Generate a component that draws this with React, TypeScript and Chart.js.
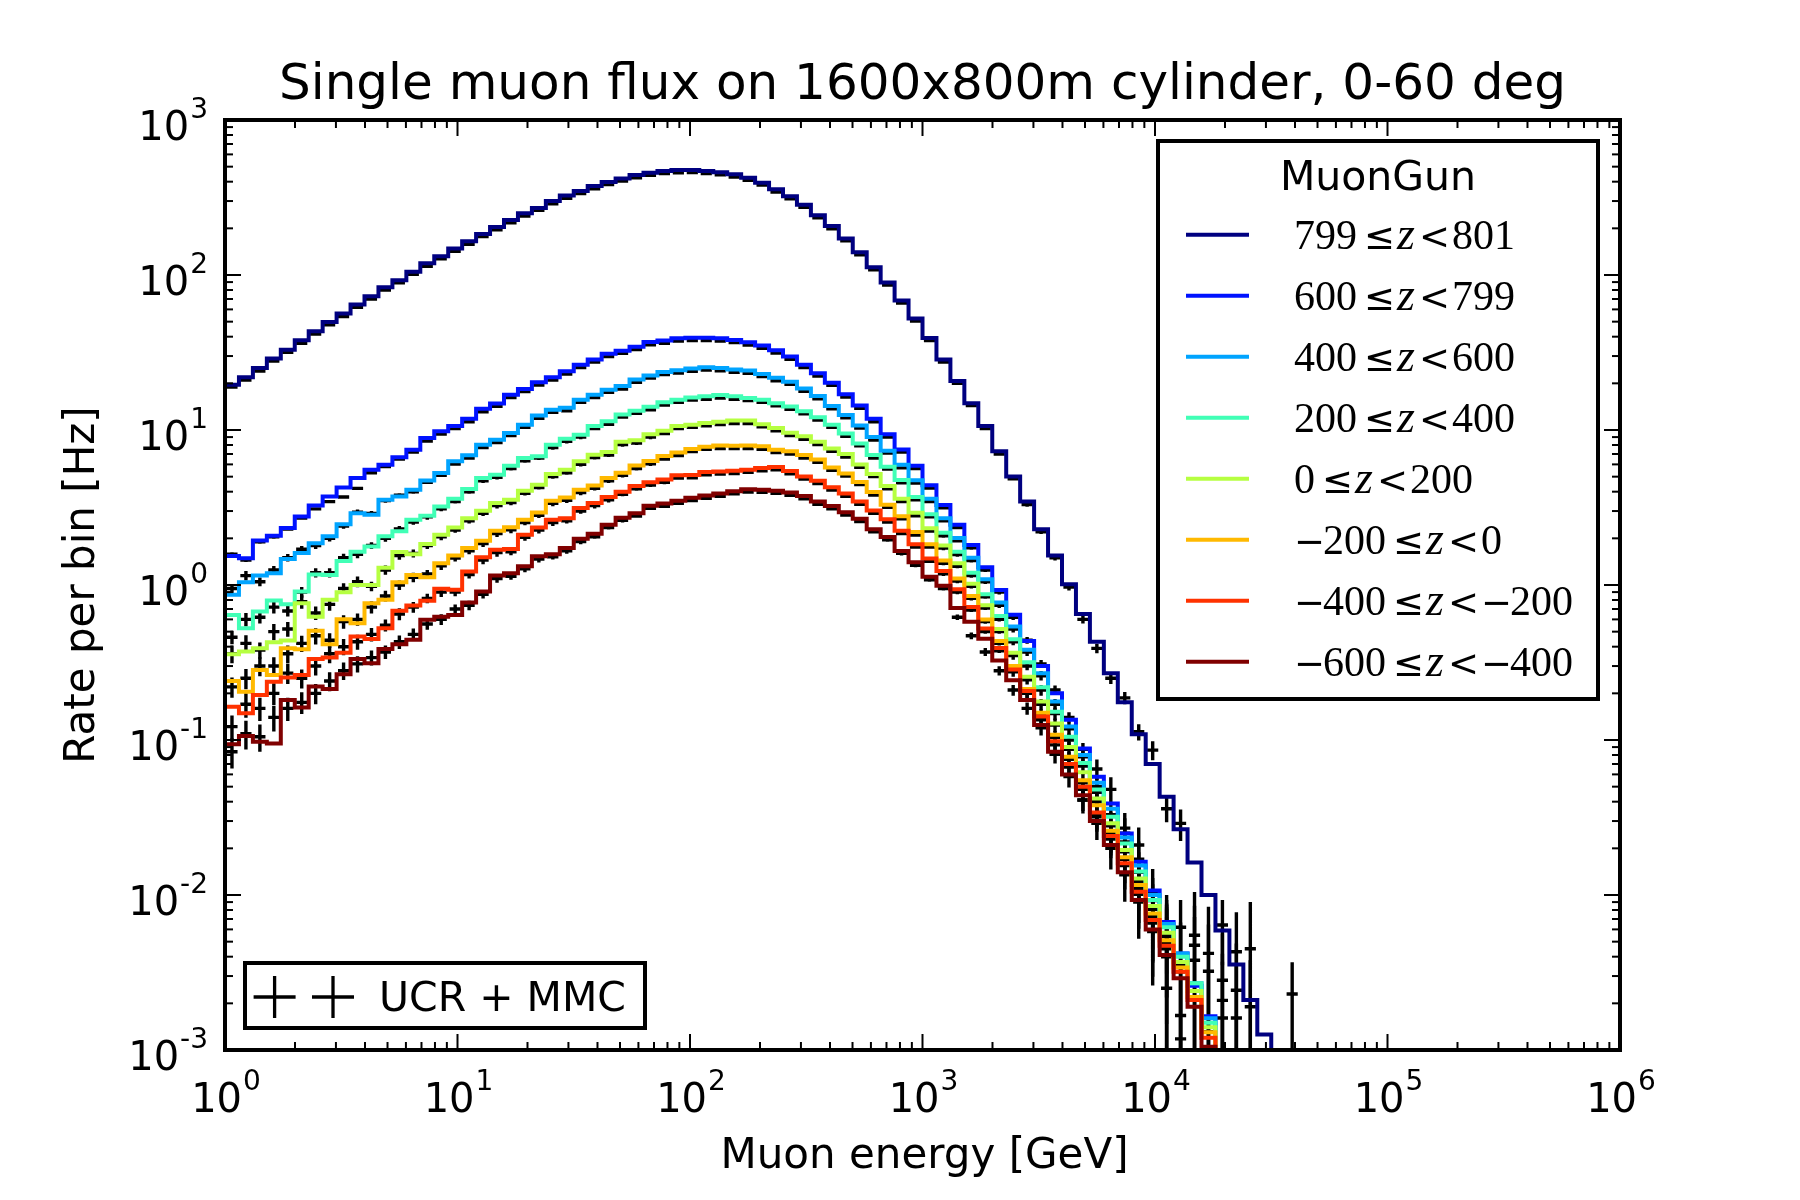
import React, { useEffect, useRef } from "react";
import { Chart, registerables } from "chart.js";

Chart.register(...registerables);

// ---------------- binning (log-spaced, 0.06 dex per bin) ----------------
const BIN_DEX = 0.06;
const binEdges: number[] = Array.from({ length: 101 }, (_, i) => Math.pow(10, i * BIN_DEX));

// ---------------- axis ticks ----------------
const xMajorExps = [0, 1, 2, 3, 4, 5, 6];
const yMajorExps = [-3, -2, -1, 0, 1, 2, 3];
const minorMultipliers = [2, 3, 4, 5, 6, 7, 8, 9];

// ---------------- text ----------------
const titleText = "Single muon flux on 1600x800m cylinder, 0-60 deg";
const xLabelText = "Muon energy [GeV]";
const yLabelText = "Rate per bin [Hz]";
const legendTitle = "MuonGun";
const dataLegendText = "UCR + MMC";
const zLow = ["799", "600", "400", "200", "0", "\u2212200", "\u2212400", "\u2212600"];
const zHigh = ["801", "799", "600", "400", "200", "0", "\u2212200", "\u2212400"];
const seriesColors = ["#000080", "#0012ff", "#00a4ff", "#41ffb6", "#b6ff41", "#ffb900", "#ff3200", "#800000"];

// ---------------- MuonGun histograms (rate per bin, Hz) ----------------
const histZ799 = [19.6, 21.9, 25.1, 28.9, 33.0, 37.9, 43.4, 49.8, 56.4, 64.5,
  73.0, 83.4, 92.6, 105, 119, 132, 148, 165, 184, 204,
  226, 250, 271, 300, 326, 348, 375, 398, 420, 441,
  457, 469, 475, 475, 469, 461, 446, 424, 394, 357,
  322, 284, 243, 207, 172, 140, 112, 89.3, 68.5, 52.5,
  39.2, 28.5, 20.7, 14.9, 10.6, 7.28, 5.02, 3.46, 2.29, 1.55,
  1.01, 0.65, 0.43, 0.27, 0.175, 0.109, 0.070, 0.043, 0.0266, 0.0162,
  0.0100, 0.0059, 0.00356, 0.0021, 0.00126];
const histZ600 = [1.54, 1.49, 1.94, 2.08, 2.33, 2.77, 3.26, 3.73, 4.26, 4.90,
  5.54, 5.97, 6.66, 7.46, 8.87, 9.80, 10.6, 11.8, 13.7, 14.8,
  16.9, 18.4, 20.3, 21.9, 23.9, 26.4, 28.5, 31.0, 32.5, 34.4,
  37.0, 37.8, 39.1, 39.3, 39.3, 39.1, 38.1, 36.8, 35.1, 32.7,
  29.8, 26.4, 23.2, 20.2, 17.0, 14.4, 11.8, 9.4, 7.48, 5.89,
  4.40, 3.28, 2.45, 1.81, 1.30, 0.93, 0.643, 0.436, 0.30, 0.20,
  0.135, 0.088, 0.058, 0.039, 0.0249, 0.0164, 0.0107, 0.0067, 0.0042, 0.0026, 0.00165];
const histZ400 = [0.865, 1.04, 1.15, 1.19, 1.47, 1.61, 1.86, 2.06, 2.47, 2.90,
  2.84, 3.55, 3.73, 4.12, 4.73, 5.28, 6.28, 6.86, 8.04, 8.66,
  9.57, 10.8, 12.4, 13.5, 13.9, 15.7, 16.9, 18.2, 19.2, 21.2,
  22.5, 23.7, 24.3, 24.9, 25.4, 25.1, 24.6, 24.2, 23.0, 21.7,
  20.5, 18.5, 16.6, 14.3, 12.5, 10.7, 9.0, 7.36, 5.96, 4.74,
  3.6, 2.7, 2.01, 1.5, 1.09, 0.77, 0.54, 0.382, 0.270, 0.177,
  0.122, 0.080, 0.053, 0.036, 0.0235, 0.0155, 0.0100, 0.0065, 0.0042, 0.0027, 0.0016];
const histZ200 = [0.641, 0.526, 0.674, 0.794, 0.752, 0.908, 1.17, 1.16, 1.43, 1.64,
  1.77, 2.06, 2.22, 2.64, 2.80, 3.21, 3.60, 4.16, 4.90, 5.15,
  5.89, 6.59, 6.76, 8.04, 8.79, 9.33, 10.6, 11.4, 12.6, 13.3,
  14.1, 15.1, 15.7, 16.2, 16.5, 16.8, 16.5, 16.1, 15.7, 14.9,
  14.2, 13.2, 12.1, 10.8, 9.5, 8.19, 6.9, 5.8, 4.76, 3.7,
  2.86, 2.17, 1.64, 1.2, 0.87, 0.63, 0.446, 0.317, 0.219, 0.152,
  0.105, 0.071, 0.048, 0.032, 0.0215, 0.0142, 0.0093, 0.0062, 0.0040, 0.0027, 0.0015];
const histZ0 = [0.357, 0.372, 0.391, 0.427, 0.438, 0.763, 0.625, 0.802, 0.899, 1.00,
  1.00, 1.29, 1.63, 1.58, 1.84, 2.11, 2.35, 2.70, 3.01, 3.38,
  3.55, 4.06, 4.44, 5.20, 5.55, 6.28, 6.93, 7.2, 8.4, 8.6,
  9.4, 9.9, 10.6, 10.8, 11.1, 11.3, 11.5, 11.5, 10.9, 10.3,
  9.6, 9.1, 8.4, 7.6, 7.0, 6.0, 5.2, 4.35, 3.6, 2.93,
  2.32, 1.8, 1.38, 1.02, 0.74, 0.52, 0.365, 0.256, 0.177, 0.128,
  0.090, 0.062, 0.042, 0.029, 0.0195, 0.0128, 0.0085, 0.0057, 0.0037, 0.0024, 0.0014];
const histZm200 = [0.240, 0.205, 0.283, 0.263, 0.391, 0.385, 0.506, 0.415, 0.601, 0.566,
  0.763, 0.802, 1.04, 1.16, 1.12, 1.38, 1.55, 1.73, 1.93, 2.24,
  2.36, 2.64, 2.94, 3.50, 3.67, 4.12, 4.39, 4.9, 5.3, 5.9,
  6.3, 6.8, 7.15, 7.55, 7.8, 7.95, 7.9, 7.93, 7.85, 7.46,
  7.3, 6.9, 6.45, 5.73, 5.25, 4.62, 3.98, 3.3, 2.78, 2.2,
  1.83, 1.44, 1.10, 0.85, 0.60, 0.436, 0.30, 0.213, 0.150, 0.108,
  0.078, 0.055, 0.038, 0.026, 0.0175, 0.0116, 0.0076, 0.0051, 0.0034, 0.0022, 0.0013];
const histZm400 = [0.164, 0.149, 0.195, 0.238, 0.253, 0.263, 0.333, 0.340, 0.366, 0.465,
  0.449, 0.526, 0.681, 0.737, 0.791, 0.945, 0.931, 1.22, 1.51, 1.69,
  1.71, 2.11, 2.35, 2.64, 2.70, 3.14, 3.38, 3.7, 4.0, 4.35,
  4.6, 4.8, 5.1, 5.12, 5.35, 5.4, 5.45, 5.55, 5.69, 5.77,
  5.44, 5.02, 4.71, 4.28, 3.89, 3.46, 3.03, 2.66, 2.24, 1.83,
  1.48, 1.23, 0.94, 0.72, 0.525, 0.392, 0.285, 0.207, 0.142, 0.098,
  0.070, 0.050, 0.034, 0.024, 0.0160, 0.0105, 0.0069, 0.0047, 0.0032, 0.0021, 0.0012];
const histZm600 = [0.094, 0.106, 0.0975, 0.095, 0.181, 0.162, 0.221, 0.213, 0.266, 0.333,
  0.313, 0.387, 0.415, 0.443, 0.596, 0.625, 0.641, 0.771, 0.908, 1.15,
  1.19, 1.32, 1.53, 1.58, 1.73, 1.99, 2.14, 2.45, 2.72, 2.9,
  3.25, 3.35, 3.5, 3.65, 3.78, 3.9, 4.03, 4.15, 4.12, 4.06,
  3.95, 3.75, 3.46, 3.23, 2.95, 2.68, 2.29, 2.04, 1.66, 1.40,
  1.13, 0.99, 0.71, 0.58, 0.45, 0.326, 0.243, 0.181, 0.125, 0.084,
  0.060, 0.044, 0.030, 0.021, 0.014, 0.0093, 0.0060, 0.0041, 0.0029, 0.0019, 0.00105];

// ---------------- UCR + MMC points (value, relative error) ----------------
const ucrZ799 = [18.9, 21.0, 24.0, 27.8, 31.7, 36.3, 41.6, 47.8, 54.0, 61.9,
  70.0, 80.0, 89.0, 101, 114, 127, 142, 158, 177, 196,
  217, 240, 261, 288, 313, 335, 360, 383, 404, 424,
  440, 452, 457, 458, 452, 443, 429, 408, 380, 343,
  310, 273, 234, 199, 166, 135, 108, 86.0, 66.0, 50.5,
  37.8, 27.4, 20.0, 14.4, 10.2, 7.0, 4.85, 3.3, 2.2, 1.5,
  0.97, 0.60, 0.39, 0.25, 0.187, 0.113, 0.086, 0.036, 0.029, 0.0055,
  0.0042, 0.0064, 0.0043, 0.0045, null, null, 0.0023];
const ucrErrZ799 = [0.01, 0.01, 0.01, 0.01, 0.01, 0.01, 0.01, 0.01, 0.01, 0.01,
  0.01, 0.01, 0.01, 0.01, 0.01, 0.01, 0.01, 0.01, 0.01, 0.01,
  0.01, 0.01, 0.01, 0.01, 0.01, 0.01, 0.01, 0.01, 0.01, 0.01,
  0.01, 0.01, 0.01, 0.01, 0.01, 0.01, 0.01, 0.01, 0.01, 0.01,
  0.01, 0.01, 0.01, 0.01, 0.01, 0.01, 0.01, 0.01, 0.01, 0.01,
  0.01, 0.01, 0.01, 0.01, 0.01, 0.02, 0.02, 0.03, 0.03, 0.04,
  0.05, 0.06, 0.07, 0.08, 0.09, 0.12, 0.14, 0.18, 0.23, 0.9,
  1.0, 0.45, 0.8, 1.0, null, null, 0.6];
const ucrZ600 = [1.58, 1.45, 1.9, 2.05, 2.3, 2.7, 3.1, 3.45, 3.7, 4.2,
  5.3, 5.8, 6.5, 7.2, 8.5, 9.4, 10.2, 11.3, 13.1, 14.2,
  16.2, 17.7, 19.5, 21.0, 23.0, 25.3, 27.4, 29.8, 31.2, 33.0,
  35.5, 36.3, 37.5, 37.7, 37.7, 37.5, 36.6, 35.3, 33.7, 31.4,
  28.6, 25.3, 22.3, 19.4, 16.3, 13.8, 11.3, 9.0, 7.2, 5.65,
  4.22, 3.15, 2.35, 1.74, 1.25, 0.9, 0.62, 0.44, 0.31, 0.21,
  0.14, 0.087, 0.065, 0.048, 0.027, 0.021, 0.0105, 0.0025, 0.0062, 0.00474,
  0.00322, 0.00282, 0.00243, 0.0019];
const ucrErrZ600 = [0.03, 0.03, 0.03, 0.03, 0.025, 0.025, 0.025, 0.02, 0.02, 0.02,
  0.015, 0.015, 0.015, 0.015, 0.015, 0.015, 0.015, 0.015, 0.015, 0.015,
  0.015, 0.015, 0.015, 0.015, 0.015, 0.015, 0.015, 0.015, 0.015, 0.015,
  0.015, 0.015, 0.015, 0.015, 0.015, 0.015, 0.015, 0.015, 0.015, 0.015,
  0.015, 0.015, 0.015, 0.015, 0.015, 0.015, 0.015, 0.015, 0.015, 0.015,
  0.02, 0.02, 0.025, 0.03, 0.03, 0.035, 0.04, 0.05, 0.06, 0.07,
  0.08, 0.1, 0.15, 0.2, 0.25, 0.3, 0.4, 3.0, 0.5, 0.8,
  1.0, 1.0, 1.0, 1.0];
const ucrZ400 = [0.95, 1.15, 1.05, 1.25, 1.5, 1.7, 1.8, 2.0, 2.4, 2.95,
  2.9, 3.5, 3.8, 4.0, 4.6, 5.1, 6.03, 6.6, 7.7, 8.3,
  9.2, 10.4, 11.9, 13.0, 13.3, 15.1, 16.2, 17.5, 18.4, 20.3,
  21.6, 22.8, 23.3, 23.9, 24.4, 24.1, 23.6, 23.2, 22.1, 20.8,
  19.7, 17.8, 15.9, 13.7, 12.0, 10.3, 8.6, 7.1, 5.7, 4.55,
  3.45, 2.6, 1.93, 1.44, 1.05, 0.74, 0.52, 0.37, 0.26, 0.17,
  0.118, 0.078, 0.05, 0.033, 0.022, 0.017, 0.0068, 0.0055, 0.00167, 0.00379,
  0.00131, 0.00209, 0.00161];
const ucrErrZ400 = [0.07, 0.07, 0.065, 0.06, 0.055, 0.05, 0.05, 0.045, 0.04, 0.04,
  0.035, 0.03, 0.03, 0.03, 0.025, 0.025, 0.02, 0.02, 0.02, 0.02,
  0.02, 0.02, 0.02, 0.02, 0.02, 0.02, 0.02, 0.02, 0.02, 0.02,
  0.015, 0.015, 0.015, 0.015, 0.015, 0.015, 0.015, 0.015, 0.015, 0.015,
  0.015, 0.015, 0.015, 0.015, 0.015, 0.015, 0.015, 0.015, 0.015, 0.015,
  0.02, 0.02, 0.025, 0.03, 0.035, 0.04, 0.05, 0.06, 0.07, 0.08,
  0.1, 0.12, 0.15, 0.2, 0.25, 0.3, 0.45, 0.6, 1.2, 0.9,
  1.5, 1.0, 1.2];
const ucrZ200 = [0.46, 0.6, 0.62, 0.72, 0.68, 0.9, 1.2, 1.2, 1.5, 1.58,
  1.8, 2.0, 2.3, 2.55, 2.75, 3.1, 3.46, 4.0, 4.7, 4.95,
  5.65, 6.33, 6.6, 7.7, 8.45, 9.0, 10.2, 10.9, 12.1, 12.8,
  13.5, 14.5, 15.1, 15.6, 15.8, 16.1, 15.8, 15.5, 15.1, 14.3,
  13.6, 12.7, 11.6, 10.4, 9.1, 7.9, 6.6, 5.6, 4.57, 3.55,
  2.75, 2.08, 1.57, 1.15, 0.84, 0.6, 0.43, 0.3, 0.21, 0.148,
  0.1, 0.068, 0.046, 0.024, 0.025, 0.014, 0.0092, 0.0062, 0.00118, null,
  null, 0.00161];
const ucrErrZ200 = [0.1, 0.1, 0.09, 0.09, 0.08, 0.08, 0.07, 0.07, 0.06, 0.06,
  0.05, 0.05, 0.045, 0.04, 0.04, 0.035, 0.03, 0.03, 0.03, 0.03,
  0.03, 0.03, 0.03, 0.03, 0.03, 0.03, 0.02, 0.02, 0.02, 0.02,
  0.02, 0.02, 0.02, 0.02, 0.02, 0.02, 0.02, 0.02, 0.02, 0.02,
  0.02, 0.02, 0.02, 0.02, 0.02, 0.02, 0.02, 0.02, 0.02, 0.02,
  0.02, 0.03, 0.03, 0.03, 0.03, 0.03, 0.05, 0.06, 0.08, 0.09,
  0.1, 0.12, 0.15, 0.25, 0.25, 0.35, 0.4, 0.5, 1.5, null,
  null, 1.3];
const ucrZ0 = [0.36, 0.42, 0.38, 0.5, 0.52, 0.78, 0.66, 0.75, 0.95, 1.05,
  0.98, 1.25, 1.55, 1.6, 1.8, 2.05, 2.26, 2.6, 2.9, 3.25,
  3.4, 3.9, 4.26, 5.0, 5.3, 6.0, 6.65, 6.9, 8.05, 8.25,
  9.0, 9.5, 10.2, 10.4, 10.65, 10.85, 11.0, 11.0, 10.5, 9.9,
  9.2, 8.7, 8.05, 7.3, 6.7, 5.75, 5.0, 4.18, 3.45, 2.8,
  2.23, 1.73, 1.32, 0.98, 0.71, 0.5, 0.35, 0.245, 0.17, 0.125,
  0.087, 0.041, 0.040, 0.028, 0.019, 0.0122, 0.0081, 0.0054, 0.0035];
const ucrErrZ0 = [0.13, 0.13, 0.12, 0.12, 0.11, 0.1, 0.1, 0.09, 0.08, 0.08,
  0.07, 0.07, 0.06, 0.06, 0.05, 0.05, 0.04, 0.04, 0.04, 0.04,
  0.04, 0.03, 0.03, 0.03, 0.03, 0.03, 0.03, 0.03, 0.03, 0.03,
  0.03, 0.02, 0.02, 0.02, 0.02, 0.02, 0.02, 0.02, 0.02, 0.02,
  0.02, 0.02, 0.02, 0.02, 0.02, 0.02, 0.02, 0.02, 0.02, 0.02,
  0.02, 0.03, 0.03, 0.03, 0.03, 0.03, 0.06, 0.07, 0.08, 0.1,
  0.12, 0.15, 0.18, 0.22, 0.28, 0.35, 0.45, 0.6, 0.9];
const ucrZm200 = [0.22, 0.25, 0.3, 0.3, 0.36, 0.42, 0.47, 0.44, 0.58, 0.6,
  0.72, 0.85, 1.0, 1.12, 1.18, 1.33, 1.49, 1.66, 1.85, 2.15,
  2.27, 2.53, 2.82, 3.36, 3.52, 3.95, 4.2, 4.7, 5.1, 5.65,
  6.05, 6.5, 6.85, 7.25, 7.5, 7.6, 7.6, 7.6, 7.5, 7.15,
  7.0, 6.6, 6.2, 5.5, 5.05, 4.45, 3.8, 3.17, 2.67, 2.1,
  1.76, 1.38, 1.06, 0.82, 0.58, 0.42, 0.29, 0.2, 0.145, 0.104,
  0.075, 0.053, 0.032, 0.025, 0.017, 0.011, 0.0073, 0.0049, 0.0032];
const ucrErrZm200 = [0.15, 0.15, 0.14, 0.14, 0.13, 0.12, 0.12, 0.11, 0.1, 0.09,
  0.09, 0.08, 0.07, 0.07, 0.06, 0.06, 0.05, 0.05, 0.05, 0.05,
  0.05, 0.04, 0.04, 0.04, 0.04, 0.04, 0.03, 0.03, 0.03, 0.03,
  0.03, 0.02, 0.02, 0.02, 0.02, 0.02, 0.02, 0.02, 0.02, 0.02,
  0.02, 0.02, 0.02, 0.02, 0.02, 0.02, 0.02, 0.02, 0.02, 0.02,
  0.02, 0.03, 0.03, 0.03, 0.03, 0.03, 0.06, 0.08, 0.09, 0.1,
  0.12, 0.15, 0.2, 0.25, 0.3, 0.4, 0.5, 0.7, 1.0];
const ucrZm400 = [0.122, 0.17, 0.16, 0.2, 0.27, 0.25, 0.3, 0.36, 0.4, 0.43,
  0.48, 0.55, 0.65, 0.72, 0.82, 0.9, 0.9, 1.17, 1.45, 1.62,
  1.64, 2.03, 2.26, 2.53, 2.6, 3.0, 3.25, 3.55, 3.85, 4.18,
  4.42, 4.6, 4.9, 4.92, 5.14, 5.2, 5.23, 5.33, 5.46, 5.54,
  5.22, 4.82, 4.52, 4.1, 3.73, 3.32, 2.9, 2.55, 2.15, 1.76,
  1.42, 1.18, 0.9, 0.69, 0.5, 0.376, 0.275, 0.2, 0.135, 0.093,
  0.067, 0.048, 0.033, 0.023, 0.0155, 0.0101, 0.0066, 0.0045];
const ucrErrZm400 = [0.18, 0.18, 0.17, 0.16, 0.15, 0.14, 0.13, 0.13, 0.12, 0.11,
  0.1, 0.09, 0.09, 0.08, 0.07, 0.07, 0.06, 0.06, 0.06, 0.06,
  0.05, 0.05, 0.05, 0.05, 0.04, 0.04, 0.04, 0.04, 0.03, 0.03,
  0.03, 0.03, 0.02, 0.02, 0.02, 0.02, 0.02, 0.02, 0.02, 0.02,
  0.02, 0.02, 0.02, 0.02, 0.02, 0.02, 0.02, 0.02, 0.02, 0.02,
  0.02, 0.03, 0.03, 0.03, 0.03, 0.03, 0.07, 0.08, 0.1, 0.12,
  0.14, 0.17, 0.2, 0.25, 0.3, 0.4, 0.55, 0.8];
const ucrZm600 = [0.084, 0.11, 0.105, 0.14, 0.16, 0.175, 0.2, 0.24, 0.28, 0.31,
  0.34, 0.37, 0.43, 0.48, 0.56, 0.6, 0.7, 0.74, 0.87, 1.1,
  1.14, 1.27, 1.47, 1.52, 1.66, 1.91, 2.05, 2.35, 2.61, 2.78,
  3.12, 3.22, 3.36, 3.5, 3.63, 3.74, 3.87, 3.98, 3.96, 3.9,
  3.79, 3.6, 3.32, 3.1, 2.83, 2.57, 2.2, 1.96, 1.6, 1.34,
  1.08, 0.95, 0.62, 0.47, 0.37, 0.28, 0.21, 0.16, 0.12, 0.081,
  0.058, 0.041, 0.029, 0.02, 0.0135, 0.009, 0.0058, 0.004];
const ucrErrZm600 = [0.22, 0.21, 0.2, 0.19, 0.17, 0.16, 0.15, 0.14, 0.13, 0.12,
  0.11, 0.1, 0.1, 0.09, 0.08, 0.08, 0.07, 0.07, 0.06, 0.06,
  0.05, 0.05, 0.05, 0.04, 0.04, 0.04, 0.03, 0.03, 0.03, 0.02,
  0.02, 0.02, 0.02, 0.02, 0.02, 0.02, 0.02, 0.02, 0.02, 0.02,
  0.02, 0.02, 0.02, 0.02, 0.02, 0.02, 0.02, 0.03, 0.03, 0.03,
  0.03, 0.03, 0.04, 0.05, 0.06, 0.07, 0.08, 0.09, 0.11, 0.13,
  0.15, 0.18, 0.22, 0.27, 0.33, 0.42, 0.55, 0.8];

const histSeries = [histZ799, histZ600, histZ400, histZ200, histZ0, histZm200, histZm400, histZm600];
const ucrSeries = [ucrZ799, ucrZ600, ucrZ400, ucrZ200, ucrZ0, ucrZm200, ucrZm400, ucrZm600];
const ucrErrSeries = [ucrErrZ799, ucrErrZ600, ucrErrZ400, ucrErrZ200, ucrErrZ0, ucrErrZm200, ucrErrZm400, ucrErrZm600];

const FLOOR = 1e-6;
const SANS = '"DejaVu Sans", "Bitstream Vera Sans", sans-serif';
const SERIF = '"Liberation Serif", "DejaVu Serif", serif';

function histPoints(vals: number[]) {
  const pts: any[] = vals.map((v, i) => ({ x: binEdges[i], y: v }));
  pts.push({ x: binEdges[vals.length], y: FLOOR });
  return pts;
}

function crossPoints(vals: (number | null)[], errs: (number | null)[]) {
  const pts: any[] = [];
  vals.forEach((v, i) => {
    if (v === null || v === undefined) return;
    const e = errs[i] ?? 0;
    const xc = Math.pow(10, (i + 0.5) * BIN_DEX);
    const xl = Math.pow(10, (i + 0.1) * BIN_DEX);
    const xh = Math.pow(10, (i + 0.9) * BIN_DEX);
    const hi = v * (1 + e);
    const loRaw = v * (1 - e);
    const lo = loRaw > 0 ? loRaw : FLOOR;
    pts.push({ x: xl, y: v }, { x: xh, y: v }, { x: xh, y: null });
    pts.push({ x: xc, y: hi }, { x: xc, y: lo }, { x: xc, y: null });
  });
  return pts;
}

function drawPow(ctx: CanvasRenderingContext2D, exp: number, x: number, baseY: number, align: "center" | "right") {
  const mainFont = `40px ${SANS}`;
  const supFont = `28px ${SANS}`;
  ctx.font = mainFont;
  const wMain = ctx.measureText("10").width;
  ctx.font = supFont;
  const expStr = exp < 0 ? "-" + Math.abs(exp) : String(exp);
  const wSup = ctx.measureText(expStr).width;
  const total = wMain + 1 + wSup;
  const left = align === "center" ? x - total / 2 : x - total;
  ctx.textAlign = "left";
  ctx.textBaseline = "alphabetic";
  ctx.font = mainFont;
  ctx.fillText("10", left, baseY);
  ctx.font = supFont;
  ctx.fillText(expStr, left + wMain + 1, baseY - 22);
}

const NUM_FONT = `42px ${SERIF}`;
const REL_FONT = `37px ${SANS}`;
const Z_FONT = `italic 46px ${SERIF}`;

// draws a (possibly negative) number in math style, returns advanced x
function drawMathNumber(ctx: CanvasRenderingContext2D, s: string, x: number, yb: number) {
  let cx = x;
  let digits = s;
  if (s.startsWith("\u2212")) {
    ctx.font = REL_FONT;
    ctx.fillText("\u2212", cx, yb);
    cx += ctx.measureText("\u2212").width - 2;
    digits = s.slice(1);
  }
  ctx.font = NUM_FONT;
  ctx.fillText(digits, cx, yb);
  cx += ctx.measureText(digits).width;
  return cx;
}

const decorPlugin = {
  id: "decor",
  afterDatasetsDraw(chart: any) {
    const { ctx, chartArea: a, scales } = chart;
    const xs = scales.x;
    const ys = scales.y;
    ctx.save();
    ctx.strokeStyle = "#000";
    ctx.fillStyle = "#000";
    ctx.lineCap = "butt";

    const seg = (x1: number, y1: number, x2: number, y2: number) => {
      ctx.beginPath();
      ctx.moveTo(x1, y1);
      ctx.lineTo(x2, y2);
      ctx.stroke();
    };

    // ticks (inward, all four sides)
    ctx.lineWidth = 2;
    xMajorExps.forEach((k) => {
      const px = xs.getPixelForValue(Math.pow(10, k));
      seg(px, a.bottom, px, a.bottom - 16);
      seg(px, a.top, px, a.top + 16);
      if (k < xMajorExps[xMajorExps.length - 1]) {
        minorMultipliers.forEach((m) => {
          const p = xs.getPixelForValue(m * Math.pow(10, k));
          seg(p, a.bottom, p, a.bottom - 8);
          seg(p, a.top, p, a.top + 8);
        });
      }
    });
    yMajorExps.forEach((k) => {
      const py = ys.getPixelForValue(Math.pow(10, k));
      seg(a.left, py, a.left + 16, py);
      seg(a.right, py, a.right - 16, py);
      if (k < yMajorExps[yMajorExps.length - 1]) {
        minorMultipliers.forEach((m) => {
          const p = ys.getPixelForValue(m * Math.pow(10, k));
          seg(a.left, p, a.left + 8, p);
          seg(a.right, p, a.right - 8, p);
        });
      }
    });

    // spines
    ctx.lineWidth = 4;
    ctx.strokeRect(a.left, a.top, a.right - a.left, a.bottom - a.top);

    // tick labels
    xMajorExps.forEach((k) => {
      const px = xs.getPixelForValue(Math.pow(10, k));
      drawPow(ctx, k, px + 1, a.bottom + 62, "center");
    });
    yMajorExps.forEach((k) => {
      const py = ys.getPixelForValue(Math.pow(10, k));
      drawPow(ctx, k, a.left - 17, py + 20, "right");
    });

    // title and axis labels
    const cx = (a.left + a.right) / 2;
    ctx.textAlign = "center";
    ctx.textBaseline = "alphabetic";
    ctx.font = `50px ${SANS}`;
    ctx.fillText(titleText, cx, 99);
    ctx.font = `42px ${SANS}`;
    ctx.fillText(xLabelText, cx + 2, 1168);
    ctx.save();
    ctx.translate(94, (a.top + a.bottom) / 2);
    ctx.rotate(-Math.PI / 2);
    ctx.fillText(yLabelText, 0, 0);
    ctx.restore();

    // MuonGun legend
    const lx = 1158, ly = 141, lw = 440, lh = 558;
    ctx.fillStyle = "#fff";
    ctx.fillRect(lx, ly, lw, lh);
    ctx.lineWidth = 4;
    ctx.strokeStyle = "#000";
    ctx.strokeRect(lx, ly, lw, lh);
    ctx.fillStyle = "#000";
    ctx.font = `41px ${SANS}`;
    ctx.textAlign = "center";
    ctx.fillText(legendTitle, 1378, 189.5);
    ctx.textAlign = "left";
    seriesColors.forEach((c, k) => {
      const yc = 234.7 + 61 * k;
      ctx.strokeStyle = c;
      ctx.lineWidth = 4;
      seg(1186, yc, 1249, yc);
      const yb = yc + 14;
      ctx.fillStyle = "#000";
      let x = drawMathNumber(ctx, zLow[k], 1294, yb) + 7;
      ctx.font = REL_FONT;
      ctx.fillText("\u2264", x, yb);
      x += ctx.measureText("\u2264").width + 2;
      ctx.font = Z_FONT;
      ctx.fillText("z", x, yb);
      x += ctx.measureText("z").width + 4;
      ctx.font = REL_FONT;
      ctx.fillText("<", x, yb);
      x += ctx.measureText("<").width + 2;
      drawMathNumber(ctx, zHigh[k], x, yb);
    });

    // UCR + MMC legend
    const bx = 245, by = 963, bw = 400, bh = 65;
    ctx.fillStyle = "#fff";
    ctx.fillRect(bx, by, bw, bh);
    ctx.strokeStyle = "#000";
    ctx.lineWidth = 4;
    ctx.strokeRect(bx, by, bw, bh);
    ctx.lineWidth = 3.3;
    [274.6, 333].forEach((mx) => {
      seg(mx - 21, 997, mx + 21, 997);
      seg(mx, 976, mx, 1018);
    });
    ctx.fillStyle = "#000";
    ctx.font = `41px ${SANS}`;
    ctx.textAlign = "left";
    ctx.fillText(dataLegendText, 379, 1011);

    ctx.restore();
  },
};

export default function App() {
  const ref = useRef<HTMLCanvasElement | null>(null);
  useEffect(() => {
    document.body.style.margin = "0";
    const canvas = ref.current;
    if (!canvas) return;

    const histDatasets = histSeries.map((vals, k) => ({
      label: `${zLow[k]} <= z < ${zHigh[k]}`,
      data: histPoints(vals),
      borderColor: seriesColors[k],
      backgroundColor: seriesColors[k],
      borderWidth: 4,
      stepped: true,
      fill: false,
      pointRadius: 0,
      borderJoinStyle: "miter",
      borderCapStyle: "butt",
      order: 1 + (histSeries.length - 1 - k),
    }));
    const crossDatasets = ucrSeries.map((vals, k) => ({
      label: `UCR + MMC ${k}`,
      data: crossPoints(vals, ucrErrSeries[k]),
      borderColor: "#000",
      backgroundColor: "#000",
      borderWidth: 3.4,
      fill: false,
      pointRadius: 0,
      spanGaps: false,
      borderCapStyle: "butt",
      order: 20 + k,
    }));

    const chart = new Chart(canvas, {
      type: "line",
      data: { datasets: [...histDatasets, ...crossDatasets] as any },
      options: {
        responsive: false,
        animation: false,
        devicePixelRatio: 1,
        events: [],
        parsing: true,
        layout: { padding: { left: 225, right: 180, top: 120, bottom: 150 } },
        plugins: { legend: { display: false }, tooltip: { enabled: false }, title: { display: false } },
        elements: { point: { radius: 0 }, line: { tension: 0 } },
        scales: {
          x: { type: "logarithmic", min: 1, max: 1e6, display: false },
          y: { type: "logarithmic", min: 1e-3, max: 1e3, display: false },
        },
      } as any,
      plugins: [decorPlugin as any],
    });
    return () => chart.destroy();
  }, []);

  return (
    <div style={{ width: 1800, height: 1200, background: "#fff" }}>
      <canvas ref={ref} width={1800} height={1200} style={{ display: "block" }} />
    </div>
  );
}
